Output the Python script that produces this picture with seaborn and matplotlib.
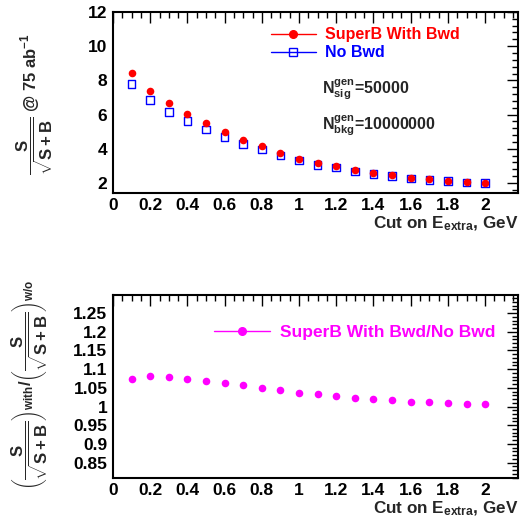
import numpy as np
import pandas as pd
import matplotlib
matplotlib.use("Agg")
import matplotlib.pyplot as plt
import seaborn as sns
from matplotlib.lines import Line2D
from matplotlib.ticker import MultipleLocator, FormatStrFormatter

cut = [0.1, 0.2, 0.3, 0.4, 0.5, 0.6, 0.7, 0.8, 0.9, 1.0,
       1.1, 1.2, 1.3, 1.4, 1.5, 1.6, 1.7, 1.8, 1.9, 2.0]
with_bwd = [8.41, 7.39, 6.65, 6.06, 5.49, 5.00, 4.54, 4.15, 3.76, 3.43,
            3.15, 2.98, 2.74, 2.59, 2.45, 2.29, 2.21, 2.14, 2.06, 2.00]
no_bwd = [7.80, 6.84, 6.16, 5.63, 5.12, 4.70, 4.28, 3.96, 3.60, 3.31,
          3.05, 2.90, 2.68, 2.54, 2.41, 2.26, 2.19, 2.12, 2.04, 1.99]
ratio = [1.075, 1.082, 1.079, 1.075, 1.068, 1.064, 1.057, 1.049, 1.043, 1.037,
         1.033, 1.029, 1.024, 1.021, 1.017, 1.012, 1.011, 1.010, 1.008, 1.007]

df = pd.DataFrame({"cut": cut, "with": with_bwd, "without": no_bwd, "ratio": ratio})

sns.set_style("white")
plt.rcParams["font.family"] = ["Liberation Sans", "DejaVu Sans"]
plt.rcParams["font.weight"] = "bold"
plt.rcParams["mathtext.fontset"] = "custom"
plt.rcParams["mathtext.rm"] = "Liberation Sans:bold"
plt.rcParams["mathtext.it"] = "Liberation Sans:bold"
plt.rcParams["mathtext.bf"] = "Liberation Sans:bold"
plt.rcParams["mathtext.sf"] = "Liberation Sans:bold"

fig = plt.figure(figsize=(5.2, 5.2), dpi=100)
ax1 = fig.add_axes([0.2173, 0.629, 0.779, 0.348])
ax2 = fig.add_axes([0.2173, 0.081, 0.779, 0.352])

RED, BLUE, MAG = "#ff0000", "#0000ff", "#ff00ff"

sns.scatterplot(data=df, x="cut", y="without", ax=ax1, marker="s", s=30,
                facecolor="none", edgecolor=BLUE, linewidth=1.0, zorder=2)
sns.scatterplot(data=df, x="cut", y="with", ax=ax1, color=RED, marker="o",
                s=30, edgecolor=RED, linewidth=0, zorder=3)
sns.scatterplot(data=df, x="cut", y="ratio", ax=ax2, color=MAG, marker="o",
                s=30, edgecolor=MAG, linewidth=0, zorder=3)

ax1.set_xlim(0, 2.177)
ax1.set_ylim(1.42, 12)
ax2.set_xlim(0, 2.177)
ax2.set_ylim(0.809, 1.299)

for ax in (ax1, ax2):
    ax.xaxis.set_major_locator(MultipleLocator(0.2))
    ax.xaxis.set_minor_locator(MultipleLocator(0.05))
    ax.xaxis.set_major_formatter(FormatStrFormatter("%g"))
    ax.tick_params(which="both", direction="in", top=True, right=True,
                   width=1.0, colors="black", labelsize=12.5)
    ax.tick_params(which="major", length=8)
    ax.tick_params(which="minor", length=4)
    ax.tick_params(axis="x", pad=4)
    ax.tick_params(axis="y", pad=4)
    for s in ax.spines.values():
        s.set_linewidth(1.5)
        s.set_color("black")
    for lab in ax.get_xticklabels() + ax.get_yticklabels():
        lab.set_fontweight("bold")
    ax.set_xlabel("")
    ax.set_ylabel("")

ax1.yaxis.set_major_locator(MultipleLocator(2))
ax1.yaxis.set_minor_locator(MultipleLocator(0.4))
ax2.yaxis.set_major_locator(MultipleLocator(0.05))
ax2.yaxis.set_minor_locator(MultipleLocator(0.01))
ax2.yaxis.set_major_formatter(FormatStrFormatter("%g"))

# axis titles
fig.text(0.996, 0.5615, r"Cut on E$_{extra}$, GeV", ha="right", va="baseline",
         fontsize=12.3, fontweight="bold")
fig.text(0.996, 0.012, r"Cut on E$_{extra}$, GeV", ha="right", va="baseline",
         fontsize=12.3, fontweight="bold")
fig.text(0.067, 0.80, r"$\dfrac{S}{\sqrt{S+B}}$ @ 75 ab$^{-1}$", rotation=90,
         ha="center", va="center", fontsize=12)
fig.text(0.058, 0.26,
         r"$\left(\dfrac{S}{\sqrt{S+B}}\right)_{with}$/$\left(\dfrac{S}{\sqrt{S+B}}\right)_{w/o}$",
         rotation=90, ha="center", va="center", fontsize=12)

# legends
h1 = [Line2D([], [], color=RED, marker="o", markersize=5.5, lw=1),
      Line2D([], [], color=BLUE, marker="s", markersize=5.5, mfc="none", lw=1)]
leg1 = ax1.legend(h1, ["SuperB With Bwd", "No Bwd"], loc="upper left",
                  bbox_to_anchor=(0.37, 0.96), frameon=False, fontsize=11.5,
                  handlelength=2.8, handletextpad=0.6, labelspacing=0.2,
                  borderpad=0)
for t, c in zip(leg1.get_texts(), [RED, BLUE]):
    t.set_color(c)
    t.set_fontweight("bold")

ax1.text(0.515, 0.57, r"N$^{gen}_{sig}$=50000", transform=ax1.transAxes,
         fontsize=11.5, fontweight="bold", va="center")
ax1.text(0.515, 0.37, r"N$^{gen}_{bkg}$=10000000", transform=ax1.transAxes,
         fontsize=11.5, fontweight="bold", va="center")

h2 = [Line2D([], [], color=MAG, marker="o", markersize=5.5, lw=1)]
leg2 = ax2.legend(h2, ["SuperB With Bwd/No Bwd"], loc="upper left",
                  bbox_to_anchor=(0.228, 0.885), frameon=False, fontsize=12.5,
                  handlelength=3.2, handletextpad=0.6, borderpad=0)
for t in leg2.get_texts():
    t.set_color(MAG)
    t.set_fontweight("bold")

fig.savefig("out.png", dpi=100, facecolor="white")
